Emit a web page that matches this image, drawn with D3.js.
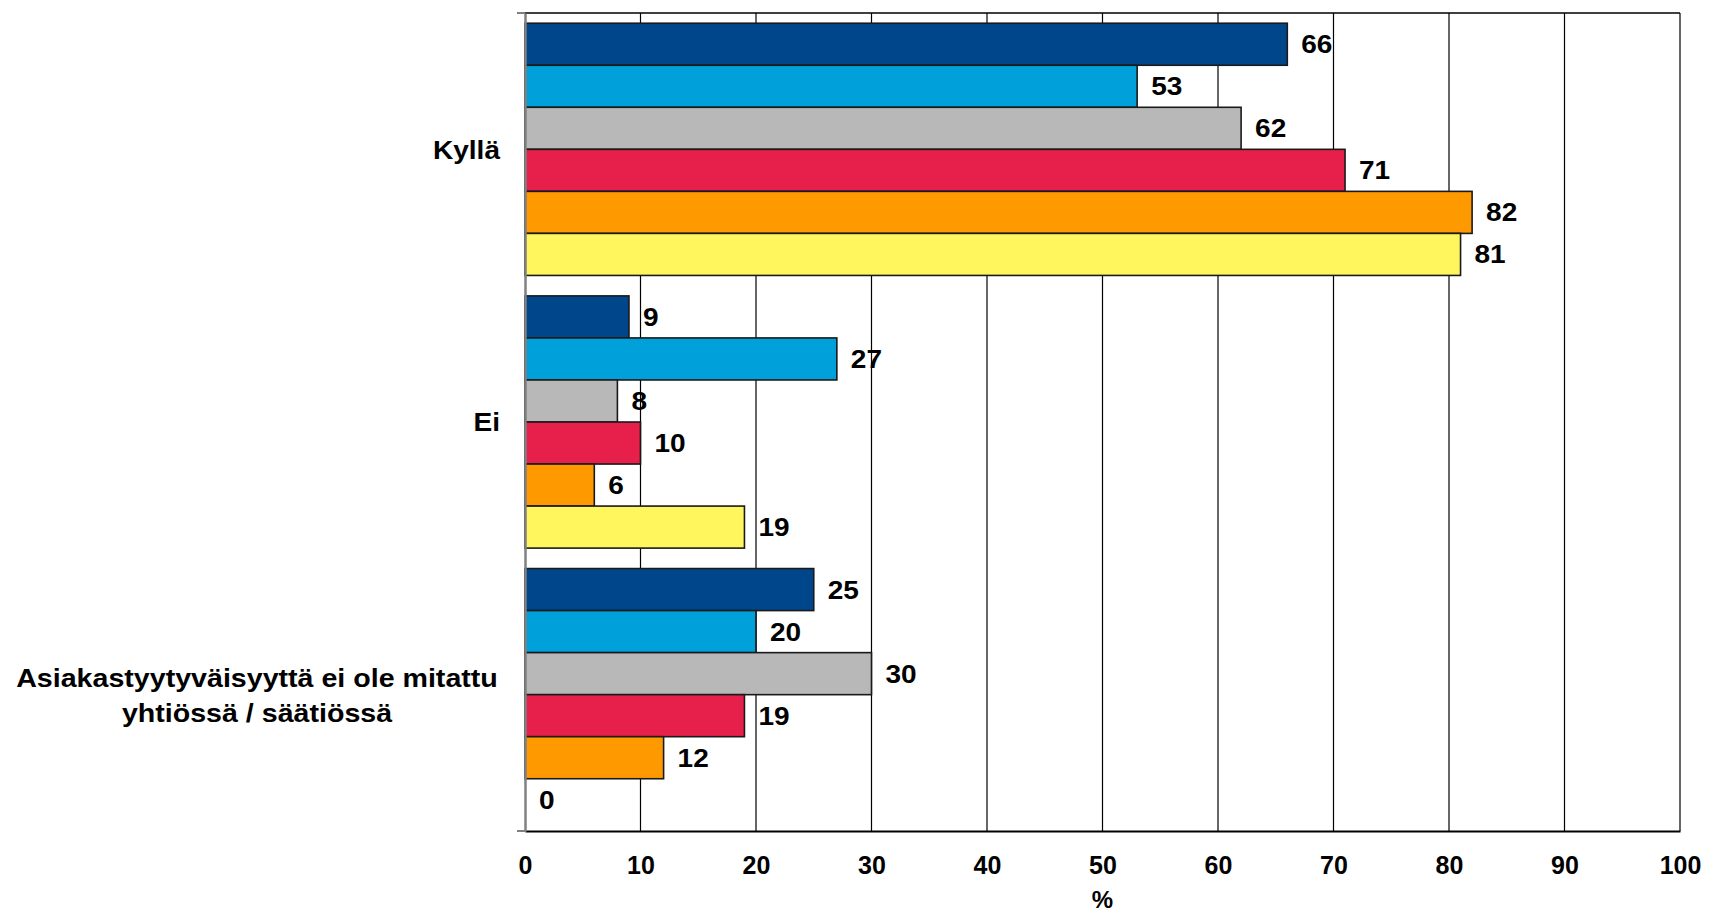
<!DOCTYPE html>
<html><head><meta charset="utf-8">
<script src="https://cdn.jsdelivr.net/npm/d3@7"></script>
<style>
html,body{margin:0;padding:0;background:#fff;overflow:hidden;}
text{font-family:"Liberation Sans",Arial,sans-serif;font-weight:bold;fill:#000;}
</style></head>
<body><svg id="chart" width="1710" height="912"></svg>
<script>
const categories = ["Kyllä", "Ei", "Asiakastyytyväisyyttä ei ole mitattu\nyhtiössä / säätiössä"];
const seriesNames = ["s1", "s2", "s3", "s4", "s5", "s6"];
const seriesColors = ["#00468A", "#00A0DA", "#B8B8B8", "#E61F4B", "#FF9900", "#FFF65E"];
const kylla = [66, 53, 62, 71, 82, 81];
const ei = [9, 27, 8, 10, 6, 19];
const mitattu = [25, 20, 30, 19, 12, 0];
const xTicks = [0, 10, 20, 30, 40, 50, 60, 70, 80, 90, 100];
const xTitle = "%";

const values = [kylla, ei, mitattu];
const svg = d3.select("#chart");
const L = 525, R = 1680, T = 13, B = 831;

const x = d3.scaleLinear().domain([0, 100]).range([L, R]);
const y0 = d3.scaleBand().domain(categories).range([T, B]).paddingInner(0.075).paddingOuter(0.0375);
const y1 = d3.scaleBand().domain(seriesNames).range([0, y0.bandwidth()]);

// gridlines
svg.append("g").selectAll("line").data(xTicks.slice(1)).join("line")
  .attr("x1", d => x(d)).attr("x2", d => x(d)).attr("y1", T).attr("y2", B)
  .attr("stroke", "#000").attr("stroke-width", 1.2);
// top border
svg.append("line").attr("x1", L).attr("x2", R).attr("y1", T).attr("y2", T).attr("stroke", "#000").attr("stroke-width", 1.5);

// bars
const groups = svg.append("g").selectAll("g").data(categories).join("g")
  .attr("transform", d => `translate(0,${y0(d)})`);
groups.selectAll("rect").data((d, i) => values[i].map((v, j) => ({v, s: seriesNames[j], c: seriesColors[j]})))
  .join("rect")
  .attr("x", x(0)).attr("y", d => y1(d.s))
  .attr("width", d => x(d.v) - x(0)).attr("height", y1.bandwidth())
  .attr("fill", d => d.c)
  .attr("stroke", d => d.v > 0 ? "#1a1a1a" : "none").attr("stroke-width", 1.6);
// value labels
groups.selectAll("text").data((d, i) => values[i].map((v, j) => ({v, s: seriesNames[j]})))
  .join("text")
  .attr("transform", d => `translate(${x(d.v) + 14},${y1(d.s) + y1.bandwidth() / 2}) scale(1.12,1)`)
  .attr("dy", "0.36em").attr("font-size", 25)
  .text(d => d3.format("d")(d.v));

// bottom axis
const xAxis = d3.axisBottom(x).tickValues(xTicks).tickSize(0).tickPadding(25).tickFormat(d3.format("d"));
const gx = svg.append("g").attr("transform", `translate(0,${B})`).call(xAxis);
gx.select(".domain").attr("stroke", "#000").attr("stroke-width", 2);
gx.selectAll("text").attr("font-size", 25).attr("font-family", '"Liberation Sans",Arial,sans-serif').attr("font-weight", "bold").attr("fill", "#000");

// left axis
const yAxis = d3.axisLeft(y0).tickSize(0).tickFormat("");
const gy = svg.append("g").attr("transform", `translate(${L},0)`).call(yAxis);
gy.select(".domain").attr("stroke", "#808080").attr("stroke-width", 2.5);
svg.append("g").selectAll("line").data([T, B]).join("line")
  .attr("x1", L - 8).attr("x2", L).attr("y1", d => d).attr("y2", d => d)
  .attr("stroke", "#808080").attr("stroke-width", 2);

// category labels
categories.forEach(c => {
  const lines = c.split("\n");
  const cy = y0(c) + y0.bandwidth() / 2;
  const lh = 35;
  const g = svg.append("g");
  if (lines.length === 1) {
    g.append("text").attr("transform", `translate(500,${cy}) scale(1.08,1)`)
      .attr("text-anchor", "end").attr("dy", "0.36em").attr("font-size", 26).text(lines[0]);
  } else {
    const cx = 257;
    lines.forEach((ln, i) => {
      g.append("text").attr("transform", `translate(${cx},${cy + (i - (lines.length - 1) / 2) * lh}) scale(1.1,1)`)
        .attr("text-anchor", "middle").attr("dy", "0.36em").attr("font-size", 26).text(ln);
    });
  }
});

// x title
svg.append("text").attr("x", (L + R) / 2).attr("y", 908).attr("text-anchor", "middle").attr("font-size", 24).text(xTitle);
</script></body></html>
